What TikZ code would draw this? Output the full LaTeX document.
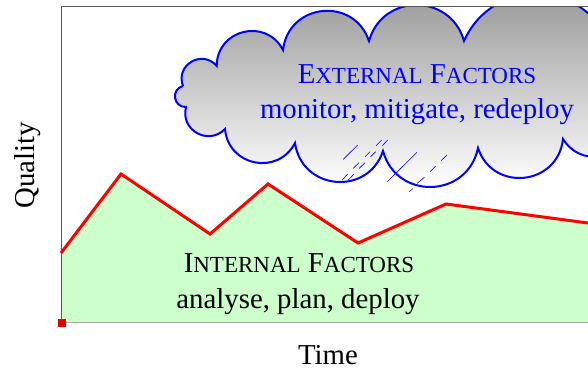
\documentclass[tikz,border=0pt]{standalone}
\usepackage{fontspec}
\setmainfont{Liberation Serif}
\definecolor{pale}{rgb}{0.8,1,0.8}
\newcommand\bigtext{\fontsize{28.8}{34}\selectfont}
\newcommand\capsA{\fontsize{28.8}{34}\selectfont}
\newcommand\capsB{\fontsize{23}{28}\selectfont}
\newcommand\cloudpath{}
% circular arc from a through p to b, as one cubic
\newcommand\addarc[6]{%
  \pgfmathsetmacro\mx{(#1+#5)/2}\pgfmathsetmacro\my{(#2+#6)/2}%
  \pgfmathsetmacro\cc{veclen(#5-#1,#6-#2)/2}%
  \pgfmathsetmacro\ux{(#5-#1)/(2*\cc)}\pgfmathsetmacro\uy{(#6-#2)/(2*\cc)}%
  \pgfmathsetmacro\nx{-\uy}\pgfmathsetmacro\ny{\ux}%
  \pgfmathsetmacro\dd{(#3-\mx)*\nx+(#4-\my)*\ny}%
  \ifdim\dd pt<0pt \pgfmathsetmacro\nx{\uy}\pgfmathsetmacro\ny{-\ux}\pgfmathsetmacro\dd{-\dd}\fi
  \pgfmathsetmacro\ee{(#3-\mx)*\ux+(#4-\my)*\uy}%
  \pgfmathsetmacro\tt{(\ee*\ee+\dd*\dd-\cc*\cc)/(2*\dd)}%
  \pgfmathsetmacro\rr{veclen(\cc,\tt)}%
  \pgfmathsetmacro\th{atan2(\cc,-\tt)}%
  \pgfmathsetmacro\LL{4/3*tan(\th/2)*\rr}%
  \pgfmathsetmacro\cax{#1+\LL*(cos(\th)*\ux+sin(\th)*\nx)}%
  \pgfmathsetmacro\cay{#2+\LL*(cos(\th)*\uy+sin(\th)*\ny)}%
  \pgfmathsetmacro\cbx{#5+\LL*(-cos(\th)*\ux+sin(\th)*\nx)}%
  \pgfmathsetmacro\cby{#6+\LL*(-cos(\th)*\uy+sin(\th)*\ny)}%
  \xdef\cloudpath{\cloudpath .. controls (\cax,\cay) and (\cbx,\cby) .. (#5,#6)}%
}
\addarc{183}{86}{202}{59}{216.7}{66}
\addarc{216.7}{66}{252}{31}{283}{50}
\addarc{283}{50}{323}{11}{369}{41}
\addarc{369}{41}{417}{5}{464}{41}
\addarc{464}{41}{535}{-6}{610}{45}
\xdef\cloudpath{\cloudpath -- (625,45) -- (625,157)}
\xdef\cloudpath{\cloudpath -- (600,156.5)}
\addarc{600}{156.5}{573}{150}{563}{139}
\addarc{563}{139}{520}{178}{478}{148}
\addarc{478}{148}{430}{187}{383}{151}
\addarc{383}{151}{340}{182}{295}{143}
\addarc{295}{143}{260}{163}{225}{129}
\addarc{225}{129}{207}{136}{186}{107}
\addarc{186}{107}{175}{97}{183}{86}
\tikzset{
  lbl/.style={inner sep=0pt,anchor=base,align=center},
  rain/.style={blue,line width=0.6pt},
  axisline/.style={draw=black!65,line width=0.9pt},
}
\begin{document}
\begin{tikzpicture}[x=1pt,y=-1pt]
\useasboundingbox (0,0) rectangle (588,368);
% plot area
\fill[pale] (61,253) -- (121,174) -- (210,234) -- (268,184) -- (358,243) -- (446,204) -- (588,223) -- (588,322) -- (61,322) -- cycle;
\draw[black!35,line width=1pt] (61,322.5) -- (588,322.5);
\draw[axisline] (588,6.5) -- (61.5,6.5) -- (61.5,322);
\draw[red,line width=3pt,line join=miter] (61,253) -- (121,174) -- (210,234) -- (268,184) -- (358,243) -- (446,204) -- (588,223);
\fill[red!90!black] (58,318.5) rectangle (66,326.5);
% cloud
\begin{scope}
\clip (0,7) rectangle (588,368);
\begin{scope}
\clip (183,86) \cloudpath -- cycle;
\shade[top color=black!37,bottom color=white] (170,6) rectangle (630,187);
\end{scope}
\draw[blue,line width=2pt,line join=miter] (183,86) \cloudpath;
\end{scope}
% rain
\foreach \a/\b/\c/\d in {343.3/159.3/357.7/145, 365/156.7/370/151.7, 370.7/156.7/375.7/151.7, 376/145.7/381.7/140, 382.3/145.7/387.7/140, 353.3/168.3/359/162.7, 359.3/168.3/365/162.7, 342.3/180/347.7/174, 348.3/180/354/174, 387.3/181.7/417/152.3, 417.3/183.3/424.3/177.3, 430/171.7/435.7/166, 441/160.7/447/155, 409.3/191.7/412.7/188.7}
  \draw[rain] (\a,\b) -- (\c,\d);
% labels
\node[lbl,text=blue] (ext) at (417,83) {{\capsA E}{\capsB XTERNAL}\capsA\ {\capsA F}{\capsB ACTORS}};
\node[lbl,text=blue] (extb) at (417,118.5) {\bigtext monitor, mitigate, redeploy};
\node[lbl] (int) at (299,272.5) {{\capsA I}{\capsB NTERNAL}\capsA\ {\capsA F}{\capsB ACTORS}};
\node[lbl] (intb) at (298,308.5) {\bigtext analyse, plan, deploy};
\node[lbl] (time) at (328,364.5) {\bigtext Time};
\node[lbl,rotate=90] (quality) at (34,165) {\bigtext Quality};
\end{tikzpicture}
\end{document}
